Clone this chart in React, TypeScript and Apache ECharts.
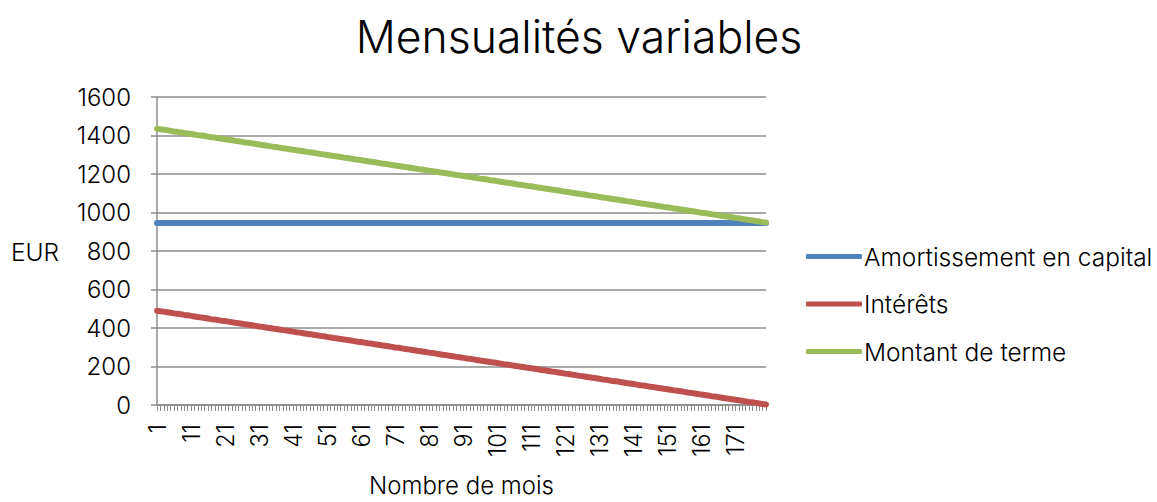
import React, { useEffect, useRef } from "react";
import * as echarts from "echarts";

const TITLE = "Mensualités variables";
const SERIES_NAMES = ["Amortissement en capital", "Intérêts", "Montant de terme"];
const COLORS = ["#4F81BD", "#C0504D", "#9BBB59"];
const Y_TICKS = [0, 200, 400, 600, 800, 1000, 1200, 1400, 1600];

// Amortissement en capital (EUR), months 1..180
const amortissement = [
  945, 945, 945, 945, 945, 945, 945, 945, 945, 945, 945, 945, 945, 945, 945, 945, 945, 945, 945, 945,
  945, 945, 945, 945, 945, 945, 945, 945, 945, 945, 945, 945, 945, 945, 945, 945, 945, 945, 945, 945,
  945, 945, 945, 945, 945, 945, 945, 945, 945, 945, 945, 945, 945, 945, 945, 945, 945, 945, 945, 945,
  945, 945, 945, 945, 945, 945, 945, 945, 945, 945, 945, 945, 945, 945, 945, 945, 945, 945, 945, 945,
  945, 945, 945, 945, 945, 945, 945, 945, 945, 945, 945, 945, 945, 945, 945, 945, 945, 945, 945, 945,
  945, 945, 945, 945, 945, 945, 945, 945, 945, 945, 945, 945, 945, 945, 945, 945, 945, 945, 945, 945,
  945, 945, 945, 945, 945, 945, 945, 945, 945, 945, 945, 945, 945, 945, 945, 945, 945, 945, 945, 945,
  945, 945, 945, 945, 945, 945, 945, 945, 945, 945, 945, 945, 945, 945, 945, 945, 945, 945, 945, 945,
  945, 945, 945, 945, 945, 945, 945, 945, 945, 945, 945, 945, 945, 945, 945, 945, 945, 945, 945, 945,
];

// Intérêts (EUR), months 1..180
const interets = [
  490, 487, 485, 482, 479, 476, 474, 471, 468, 466, 463, 460, 457, 455, 452, 449, 446, 444, 441, 438,
  436, 433, 430, 427, 425, 422, 419, 417, 414, 411, 408, 406, 403, 400, 397, 395, 392, 389, 387, 384,
  381, 378, 376, 373, 370, 368, 365, 362, 359, 357, 354, 351, 348, 346, 343, 340, 338, 335, 332, 329,
  327, 324, 321, 319, 316, 313, 310, 308, 305, 302, 299, 297, 294, 291, 289, 286, 283, 280, 278, 275,
  272, 270, 267, 264, 261, 259, 256, 253, 250, 248, 245, 242, 240, 237, 234, 231, 229, 226, 223, 221,
  218, 215, 212, 210, 207, 204, 201, 199, 196, 193, 191, 188, 185, 182, 180, 177, 174, 172, 169, 166,
  163, 161, 158, 155, 152, 150, 147, 144, 142, 139, 136, 133, 131, 128, 125, 123, 120, 117, 114, 112,
  109, 106, 103, 101, 98, 95, 93, 90, 87, 84, 82, 79, 76, 74, 71, 68, 65, 63, 60, 57,
  54, 52, 49, 46, 44, 41, 38, 35, 33, 30, 27, 25, 22, 19, 16, 14, 11, 8, 5, 3,
];

const months = amortissement.map((_, i) => String(i + 1));
const montant = amortissement.map((a, i) => a + interets[i]);

const FONT = "Inter, 'Liberation Sans', Arial, sans-serif";
const WEIGHT = 300;
const GRID_COLOR = "#8c8c8c";

export default function App() {
  const ref = useRef<HTMLDivElement>(null);
  useEffect(() => {
    if (!ref.current) return;
    document.body.style.margin = "0";
    const chart = echarts.init(ref.current, null, { renderer: "svg" });
    const seriesData = [amortissement, interets, montant];
    chart.setOption({
      animation: false,
      backgroundColor: "#ffffff",
      textStyle: { fontFamily: FONT, fontWeight: WEIGHT },
      title: {
        text: TITLE,
        left: 574,
        textAlign: "center",
        top: 9,
        textStyle: { fontFamily: FONT, fontSize: 44.5, fontWeight: WEIGHT, color: "#000" },
      },
      legend: {
        orient: "vertical",
        left: 806,
        top: 244,
        padding: 0,
        itemGap: 22.5,
        itemWidth: 56,
        itemHeight: 5,
        icon: "roundRect",
        textStyle: { fontFamily: FONT, fontWeight: WEIGHT, fontSize: 24.5, color: "#000", padding: [0, 0, 0, -3] },
        data: SERIES_NAMES,
      },
      graphic: [
        {
          type: "text",
          left: 11,
          top: 239,
          style: { text: "EUR", font: `${WEIGHT} 24.5px ${FONT}`, fill: "#000" },
        },
      ],
      grid: { left: 157, right: 391, top: 97, bottom: 97, containLabel: false, outerBoundsMode: "none" },
      xAxis: {
        type: "category",
        data: months,
        boundaryGap: false,
        name: "Nombre de mois",
        nameLocation: "middle",
        nameGap: 68,
        nameTextStyle: { fontFamily: FONT, fontWeight: WEIGHT, fontSize: 24, lineHeight: 24, color: "#000" },
        axisLine: { lineStyle: { color: GRID_COLOR, width: 1.5 } },
        axisTick: { show: true, interval: 0, length: 6, lineStyle: { color: GRID_COLOR, width: 1 } },
        axisLabel: {
          interval: 9,
          rotate: 90,
          margin: 19,
          fontFamily: FONT,
          fontWeight: WEIGHT,
          fontSize: 23.5,
          color: "#000",
        },
        splitLine: { show: false },
      },
      yAxis: {
        type: "value",
        min: 0,
        max: 1600,
        interval: 200,
        axisLine: { show: true, lineStyle: { color: GRID_COLOR, width: 1.5 } },
        axisTick: { show: true, length: 6, lineStyle: { color: GRID_COLOR, width: 1.5 } },
        axisLabel: {
          margin: 26,
          fontFamily: FONT,
          fontWeight: WEIGHT,
          fontSize: 24,
          color: "#000",
          formatter: (v: number) => (Y_TICKS.includes(v) ? String(v) : ""),
        },
        splitLine: { show: true, lineStyle: { color: GRID_COLOR, width: 1.5 } },
      },
      series: SERIES_NAMES.map((name, i) => ({
        name,
        type: "line",
        data: seriesData[i],
        symbol: "none",
        color: COLORS[i],
        lineStyle: { color: COLORS[i], width: 6, cap: "round" },
        z: 2 + i,
      })),
    });
    return () => chart.dispose();
  }, []);
  return <div ref={ref} style={{ width: 1157, height: 502 }} />;
}
